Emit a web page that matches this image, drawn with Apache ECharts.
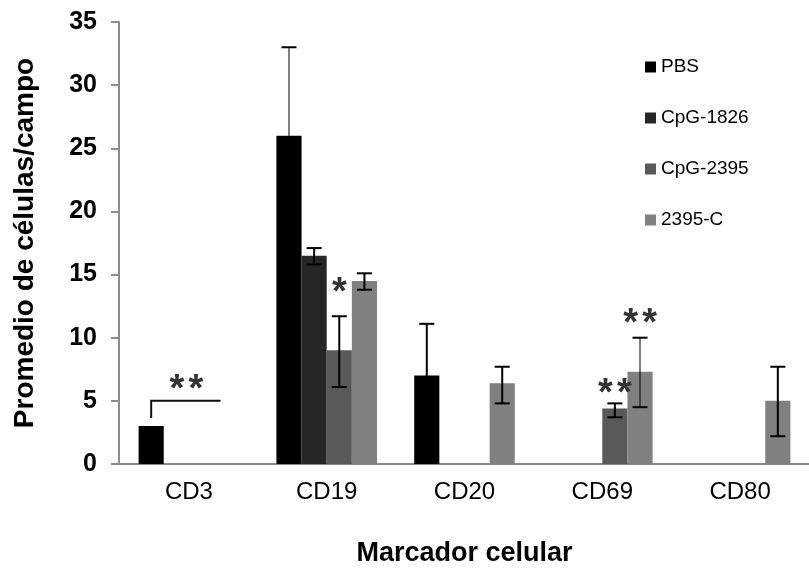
<!DOCTYPE html>
<html>
<head>
<meta charset="utf-8">
<script src="https://cdn.jsdelivr.net/npm/echarts@6/dist/echarts.min.js"></script>
<style>
html,body{margin:0;padding:0;background:#fff;}
#chart{width:809px;height:572px;}
</style>
</head>
<body>
<div id="chart"></div>
<script>
// ---- data ----
const categories = ['CD3', 'CD19', 'CD20', 'CD69', 'CD80'];
const seriesNames = ['PBS', 'CpG-1826', 'CpG-2395', '2395-C'];
const pbs      = [3, 26, 7, 0, 0];
const cpg1826  = [0, 16.5, 0, 0, 0];
const cpg2395  = [0, 9, 0, 4.4, 0];
const c2395    = [0, 14.5, 6.4, 7.3, 5];
// error bar lows / highs (null = none)
const pbsLow      = [null, 19, 2.9, null, null];
const pbsHigh     = [null, 33, 11.1, null, null];
const cpg1826Low  = [null, 15.8, null, null, null];
const cpg1826High = [null, 17.1, null, null, null];
const cpg2395Low  = [null, 6.1, null, 3.7, null];
const cpg2395High = [null, 11.7, null, 4.8, null];
const c2395Low    = [null, 13.8, 4.8, 4.5, 2.2];
const c2395High   = [null, 15.1, 7.7, 10.0, 7.7];
const yTicks = [0, 5, 10, 15, 20, 25, 30, 35];
// significance marks: [categoryIndex, barSlot, yValue, text]
const starMarks = [
  [0, 1.4, 6.6, '**'],
  [1, 2, 14.3, '*'],
  [3, 2, 6.3, '**'],
  [3, 3, 11.8, '**']
];
// bracket: [categoryIndex, startSlot, endSlot, lowY, highY]
const brackets = [[0, 0, 2.76, 3.64, 5.0]];

// ---- rendering ----
const values = [pbs, cpg1826, cpg2395, c2395];
const lows = [pbsLow, cpg1826Low, cpg2395Low, c2395Low];
const highs = [pbsHigh, cpg1826High, cpg2395High, c2395High];
const colors = ['#000000', '#262626', '#595959', '#808080'];
const CAT_GAP = 0.27;
const FONT = '"Liberation Sans", Arial, sans-serif';
const lightStems = new Set(['0-1', '3-3']);

const errData = [];
lows.forEach((arr, s) => arr.forEach((lo, c) => {
  if (lo !== null) errData.push([c, s, lo, highs[s][c]]);
}));

function slotX(api, cat, slot) {
  const bandW = api.size([1, 0])[0];
  const barW = bandW * (1 - CAT_GAP) / 4;
  return api.coord([cat, 0])[0] + (slot - 1.5) * barW;
}

const chart = echarts.init(document.getElementById('chart'), null, {renderer: 'canvas'});
const option = {
  animation: false,
  backgroundColor: '#fff',
  grid: {left: 120, top: 22, width: 698, height: 442},
  legend: {
    orient: 'vertical', left: 640, top: 51,
    itemWidth: 11, itemHeight: 11, itemGap: 29,
    icon: 'rect',
    data: seriesNames,
    textStyle: {fontFamily: FONT, fontSize: 19, color: '#000', lineHeight: 22}
  },
  xAxis: {
    type: 'category', data: categories,
    axisLine: {lineStyle: {color: '#8c8c8c', width: 2}},
    axisTick: {show: false},
    axisLabel: {fontFamily: FONT, fontSize: 24, color: '#000', margin: 16},
    name: 'Marcador celular', nameLocation: 'middle', nameGap: 76,
    nameTextStyle: {fontFamily: FONT, fontSize: 27, fontWeight: 'bold', color: '#000'}
  },
  yAxis: {
    type: 'value', min: yTicks[0], max: yTicks[yTicks.length - 1], interval: 5,
    offset: 1,
    splitLine: {show: false},
    axisLine: {show: true, lineStyle: {color: '#8c8c8c', width: 2}},
    axisTick: {show: true, length: 8, lineStyle: {color: '#8c8c8c', width: 2}},
    axisLabel: {fontFamily: FONT, fontSize: 25, fontWeight: 'bold', color: '#000', margin: 22},
    name: 'Promedio de células/campo', nameLocation: 'middle', nameGap: 80, nameRotate: 90,
    nameTextStyle: {fontFamily: FONT, fontSize: 28, fontWeight: 'bold', color: '#000'}
  },
  series: [
    ...values.map((v, i) => ({
      name: seriesNames[i], type: 'bar', data: v,
      barGap: '0%', barCategoryGap: (CAT_GAP * 100) + '%',
      itemStyle: {color: colors[i]}
    })),
    {
      type: 'custom', name: 'err', data: errData, z: 5, silent: true,
      encode: {x: 0, y: [2, 3]},
      renderItem: function (params, api) {
        const cat = api.value(0), s = api.value(1);
        const x = slotX(api, cat, s);
        const yLo = api.coord([cat, api.value(2)])[1];
        const yHi = api.coord([cat, api.value(3)])[1];
        const half = 7.5;
        const stem = lightStems.has(s + '-' + cat) ? 'rgba(0,0,0,0.5)' : '#000';
        return {
          type: 'group', children: [
            {type: 'line', shape: {x1: x, y1: yLo, x2: x, y2: yHi}, style: {stroke: stem, lineWidth: 2}},
            {type: 'line', shape: {x1: x - half, y1: yHi, x2: x + half, y2: yHi}, style: {stroke: '#000', lineWidth: 2}},
            {type: 'line', shape: {x1: x - half, y1: yLo, x2: x + half, y2: yLo}, style: {stroke: '#000', lineWidth: 2}}
          ]
        };
      }
    },
    {
      type: 'custom', name: 'stars', data: starMarks.map(m => [m[0], m[1], m[2], m[3]]), z: 6, silent: true,
      encode: {x: 0, y: 2},
      renderItem: function (params, api) {
        const m = starMarks[params.dataIndex];
        const x = slotX(api, m[0], m[1]);
        const y = api.coord([m[0], m[2]])[1];
        const n = m[3].length, pitch = 19;
        const children = [];
        for (let k = 0; k < n; k++) {
          children.push({
            type: 'text',
            style: {
              text: '*', x: x + (k - (n - 1) / 2) * pitch, y: y + 10,
              align: 'center', verticalAlign: 'middle',
              font: 'bold 38px "Liberation Sans", Arial, sans-serif', fill: '#333'
            }
          });
        }
        return {type: 'group', children: children};
      }
    },
    {
      type: 'custom', name: 'bracket', data: brackets, z: 6, silent: true,
      encode: {x: 0, y: [3, 4]},
      renderItem: function (params, api) {
        const b = brackets[params.dataIndex];
        const x1 = slotX(api, b[0], b[1]);
        const x2 = slotX(api, b[0], b[2]);
        const yLo = api.coord([b[0], b[3]])[1];
        const yHi = api.coord([b[0], b[4]])[1];
        return {
          type: 'polyline',
          shape: {points: [[x1, yLo], [x1, yHi], [x2, yHi]]},
          style: {stroke: '#111', lineWidth: 2, fill: null}
        };
      }
    }
  ]
};
chart.setOption(option);
</script>
</body>
</html>
